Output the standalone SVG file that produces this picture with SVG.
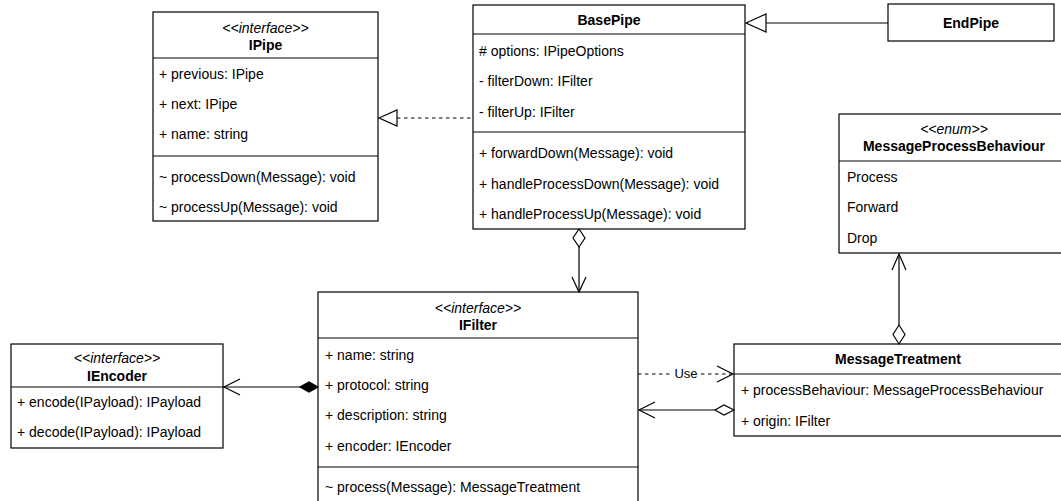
<svg xmlns="http://www.w3.org/2000/svg" width="1061" height="501" viewBox="0 0 1061 501">
<style>
.box{fill:#fff;stroke:#000;stroke-width:1.2}
.div{stroke:#000;stroke-width:1.2}
.t{font-family:"Liberation Sans",Arial,sans-serif;font-size:14px;fill:#000}
.st{font-family:"Liberation Sans",Arial,sans-serif;font-size:14px;font-style:italic;fill:#000;text-anchor:middle}
.ti{font-family:"Liberation Sans",Arial,sans-serif;font-size:14px;font-weight:bold;fill:#000;text-anchor:middle}
.ln{fill:none;stroke:#000;stroke-width:1.2}
.dash{fill:none;stroke:#000;stroke-width:1.2;stroke-dasharray:3.5 3.5}
.hol{fill:#fff;stroke:#000;stroke-width:1.2}
.fil{fill:#000;stroke:#000;stroke-width:1.2}
.lbl{font-family:"Liberation Sans",Arial,sans-serif;font-size:13px;fill:#000;text-anchor:middle}
</style>
<rect width="1061" height="501" fill="#fff"/>
<g id="IPipe">
<rect class="box" x="153" y="12" width="225" height="209"/>
<text class="st" x="265.5" y="33">&lt;&lt;interface&gt;&gt;</text>
<text class="ti" x="265.5" y="50">IPipe</text>
<line class="div" x1="153" y1="58" x2="378" y2="58"/>
<text class="t" x="159" y="79">+ previous: IPipe</text>
<text class="t" x="159" y="109">+ next: IPipe</text>
<text class="t" x="159" y="139">+ name: string</text>
<line class="div" x1="153" y1="156" x2="378" y2="156"/>
<text class="t" x="159" y="182">~ processDown(Message): void</text>
<text class="t" x="159" y="212">~ processUp(Message): void</text>
</g>
<g id="BasePipe">
<rect class="box" x="473" y="5" width="272" height="224"/>
<text class="ti" x="609" y="25">BasePipe</text>
<line class="div" x1="473" y1="34" x2="745" y2="34"/>
<text class="t" x="479" y="56">#  options: IPipeOptions</text>
<text class="t" x="479" y="86">- filterDown: IFilter</text>
<text class="t" x="479" y="117">- filterUp: IFilter</text>
<line class="div" x1="473" y1="132" x2="745" y2="132"/>
<text class="t" x="479" y="158">+ forwardDown(Message): void</text>
<text class="t" x="479" y="189">+ handleProcessDown(Message): void</text>
<text class="t" x="479" y="219">+ handleProcessUp(Message): void</text>
</g>
<g id="EndPipe">
<rect class="box" x="888" y="4" width="166" height="37"/>
<text class="ti" x="971" y="28">EndPipe</text>
</g>
<g id="MessageProcessBehaviour">
<rect class="box" x="839" y="114" width="230" height="139"/>
<text class="st" x="954" y="134">&lt;&lt;enum&gt;&gt;</text>
<text class="ti" x="954" y="151">MessageProcessBehaviour</text>
<line class="div" x1="839" y1="161" x2="1069" y2="161"/>
<text class="t" x="847" y="182">Process</text>
<text class="t" x="847" y="212">Forward</text>
<text class="t" x="847" y="243">Drop</text>
</g>
<g id="IFilter">
<rect class="box" x="318" y="292" width="320" height="220"/>
<text class="st" x="478" y="313">&lt;&lt;interface&gt;&gt;</text>
<text class="ti" x="478" y="330">IFilter</text>
<line class="div" x1="318" y1="338" x2="638" y2="338"/>
<text class="t" x="325" y="360">+ name: string</text>
<text class="t" x="325" y="390">+ protocol: string</text>
<text class="t" x="325" y="420">+ description: string</text>
<text class="t" x="325" y="451">+ encoder: IEncoder</text>
<line class="div" x1="318" y1="467" x2="638" y2="467"/>
<text class="t" x="325" y="492">~ process(Message): MessageTreatment</text>
</g>
<g id="IEncoder">
<rect class="box" x="11" y="344" width="212" height="104"/>
<text class="st" x="117" y="363">&lt;&lt;interface&gt;&gt;</text>
<text class="ti" x="117" y="381">IEncoder</text>
<line class="div" x1="11" y1="387" x2="223" y2="387"/>
<text class="t" x="17" y="407">+ encode(IPayload): IPayload</text>
<text class="t" x="17" y="437">+ decode(IPayload): IPayload</text>
</g>
<g id="MessageTreatment">
<rect class="box" x="734" y="344" width="328" height="92"/>
<text class="ti" x="898" y="364">MessageTreatment</text>
<line class="div" x1="734" y1="374" x2="1062" y2="374"/>
<text class="t" x="741" y="395">+ processBehaviour: MessageProcessBehaviour</text>
<text class="t" x="741" y="426">+ origin: IFilter</text>
</g>
<g id="connectors">
<!-- EndPipe generalization to BasePipe -->
<line class="ln" x1="766" y1="23" x2="888" y2="23"/>
<polygon class="hol" points="746,23 766,14 766,32"/>
<!-- BasePipe realizes IPipe -->
<line class="dash" x1="397" y1="118" x2="473" y2="118"/>
<polygon class="hol" points="379,118 397,110 397,126"/>
<!-- BasePipe aggregation to IFilter -->
<polygon class="hol" points="579,229 585,238 579,247 573,238"/>
<line class="ln" x1="579" y1="247" x2="579" y2="292"/>
<polyline class="ln" points="572,277 579,292 586,277"/>
<!-- IFilter composition of IEncoder -->
<line class="ln" x1="223" y1="387" x2="300" y2="387"/>
<polygon class="fil" points="318,387 309,382 300,387 309,392"/>
<polyline class="ln" points="240,379 224,387 240,395"/>
<!-- Use dependency -->
<line class="dash" x1="638" y1="374" x2="733" y2="374"/>
<polyline class="ln" points="717,366 733,374 717,382"/>
<rect x="673" y="366" width="26" height="16" fill="#fff"/>
<text class="lbl" x="686" y="378">Use</text>
<!-- MessageTreatment aggregation to IFilter -->
<polygon class="hol" points="734,410 724,405 715,410 724,415"/>
<line class="ln" x1="639" y1="410" x2="715" y2="410"/>
<polyline class="ln" points="655,402 639,410 655,418"/>
<!-- MessageTreatment aggregation to enum -->
<polygon class="hol" points="899,344 905,334.5 899,325 893,334.5"/>
<line class="ln" x1="899" y1="254" x2="899" y2="325"/>
<polyline class="ln" points="892,270 899,254 906,270"/>
</g>
</svg>
